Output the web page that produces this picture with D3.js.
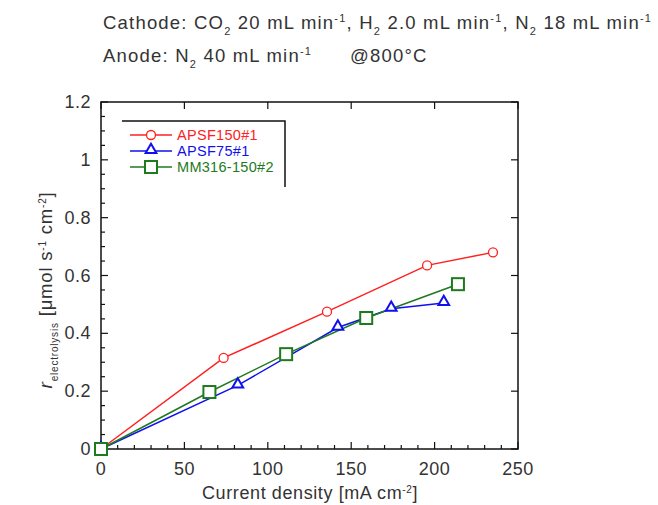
<!DOCTYPE html>
<html>
<head>
<meta charset="utf-8">
<script src="https://cdn.jsdelivr.net/npm/d3@7"></script>
<style>
  body { margin: 0; background: #fff; }
  text { font-family: "Liberation Sans", Arial, sans-serif; }
</style>
</head>
<body>
<div id="chart"></div>
<script>
// data
var seriesNames = ["APSF150#1", "APSF75#1", "MM316-150#2"];
var seriesColors = ["#ff2020", "#1010ee", "#1e7a1e"];
var seriesMarkers = ["circle", "triangle", "square"];
var apsf150X = [0, 73.5, 135.5, 195.5, 235];
var apsf150Y = [0, 0.315, 0.475, 0.635, 0.68];
var apsf75X = [0, 82, 142, 174, 205.5];
var apsf75Y = [0, 0.22, 0.42, 0.485, 0.505];
var mm316X = [0, 65, 111, 159, 214];
var mm316Y = [0, 0.197, 0.328, 0.453, 0.57];
var xTicks = [0, 50, 100, 150, 200, 250];
var yTicks = [0, 0.2, 0.4, 0.6, 0.8, 1, 1.2];

(function() {
  var seriesX = [apsf150X, apsf75X, mm316X];
  var seriesY = [apsf150Y, apsf75Y, mm316Y];

  var W = 658, H = 505;
  var svg = d3.select('#chart').append('svg')
      .attr('width', W)
      .attr('height', H);

  var pl = 101, pr = 518, pt = 102, pb = 449;
  var x = d3.scaleLinear().domain([0, 250]).range([pl, pr]);
  var y = d3.scaleLinear().domain([0, 1.2]).range([pb, pt]);

  // small helper: text with sub/superscripts, parts = [[str, 0|1|-1], ...]
  var richText = function(g, parts, big, small) {
    var shift = 0;
    parts.forEach(function(p) {
      var target = p[1] === 1 ? -small * 0.6 : (p[1] === -1 ? small * 0.55 : 0);
      g.append('tspan')
        .attr('dy', target - shift)
        .style('font-size', (p[1] === 0 ? big : small) + 'px')
        .text(p[0]);
      shift = target;
    });
    return g;
  };

  // header text
  var hdr = svg.append('g').attr('fill', '#333').style('letter-spacing', '1.2px');
  richText(hdr.append('text').attr('x', 103).attr('y', 29), [
    ['Cathode: CO', 0], ['2', -1], [' 20 mL min', 0], ['-1', 1],
    [', H', 0], ['2', -1], [' 2.0 mL min', 0], ['-1', 1],
    [', N', 0], ['2', -1], [' 18 mL min', 0], ['-1', 1]
  ], 18.5, 11);
  richText(hdr.append('text').attr('x', 103).attr('y', 62), [
    ['Anode: N', 0], ['2', -1], [' 40 mL min', 0], ['-1', 1]
  ], 18.5, 11);
  hdr.append('text').attr('x', 350).attr('y', 62).style('font-size', '18.5px').text('@800°C');

  // frame
  svg.append('rect')
      .attr('x', pl).attr('y', pt)
      .attr('width', pr - pl).attr('height', pb - pt)
      .attr('fill', 'none').attr('stroke', '#111').attr('stroke-width', 1.5);

  // ticks
  var ax = svg.append('g').attr('stroke', '#111').attr('stroke-width', 1.2);
  d3.range(0, 251, 10).forEach(function(v) {
    var major = v % 50 === 0;
    ax.append('line').attr('x1', x(v)).attr('x2', x(v))
      .attr('y1', pb).attr('y2', pb - (major ? 7 : 4));
    if (major) {
      ax.append('line').attr('x1', x(v)).attr('x2', x(v))
        .attr('y1', pt).attr('y2', pt + 7);
    }
  });
  d3.range(0, 25).forEach(function(i) {
    var v = i * 0.05;
    var major = i % 4 === 0;
    ax.append('line').attr('y1', y(v)).attr('y2', y(v))
      .attr('x1', pl).attr('x2', pl + (major ? 7 : 4));
    if (major) {
      ax.append('line').attr('y1', y(v)).attr('y2', y(v))
        .attr('x1', pr).attr('x2', pr - 7);
    }
  });

  // tick labels
  svg.append('g').selectAll('text').data(xTicks).join('text')
      .attr('x', function(d) { return x(d); })
      .attr('y', 475)
      .attr('text-anchor', 'middle')
      .attr('fill', '#333')
      .style('font-size', '18px')
      .style('letter-spacing', '0.5px')
      .text(function(d) { return d; });

  svg.append('g').selectAll('text').data(yTicks).join('text')
      .attr('x', 91)
      .attr('y', function(d) { return y(d) + 6; })
      .attr('text-anchor', 'end')
      .attr('fill', '#333')
      .style('font-size', '18px')
      .style('letter-spacing', '0.5px')
      .text(function(d) { return d; });

  // axis titles
  richText(svg.append('text').attr('x', 310).attr('y', 499)
      .attr('text-anchor', 'middle').attr('fill', '#333').style('letter-spacing', '0.6px'), [
    ['Current density [mA cm', 0], ['-2', 1], [']', 0]
  ], 18, 10);

  var yl = svg.append('text')
      .attr('transform', 'translate(52,290) rotate(-90)')
      .attr('text-anchor', 'middle').attr('fill', '#333').style('letter-spacing', '0.8px');
  yl.append('tspan').style('font-style', 'italic').style('font-size', '19px').text('r');
  richText(yl, [
    ['electrolysis', -1], [' [μmol s', 0], ['-1', 1], [' cm', 0], ['-2', 1], [']', 0]
  ], 18.5, 10);

  // markers
  var drawMarker = function(g, type, cx, cy, color) {
    if (type === 'circle') {
      g.append('circle').attr('cx', cx).attr('cy', cy).attr('r', 4.5)
        .attr('fill', '#fff').attr('stroke', color).attr('stroke-width', 1.3);
    } else if (type === 'triangle') {
      g.append('path')
        .attr('d', d3.symbol().type(d3.symbolTriangle).size(50)())
        .attr('transform', 'translate(' + cx + ',' + (cy - 1) + ')')
        .attr('fill', '#fff').attr('stroke', color).attr('stroke-width', 2);
    } else {
      g.append('rect').attr('x', cx - 6).attr('y', cy - 6)
        .attr('width', 12).attr('height', 12)
        .attr('fill', '#fff').attr('stroke', color).attr('stroke-width', 2);
    }
  };

  var line = d3.line();
  seriesNames.forEach(function(name, i) {
    var pts = seriesX[i].map(function(v, j) { return [x(v), y(seriesY[i][j])]; });
    svg.append('path').attr('d', line(pts))
      .attr('fill', 'none').attr('stroke', seriesColors[i]).attr('stroke-width', 1.5);
  });
  seriesNames.forEach(function(name, i) {
    var g = svg.append('g');
    seriesX[i].forEach(function(v, j) {
      drawMarker(g, seriesMarkers[i], x(v), y(seriesY[i][j]), seriesColors[i]);
    });
  });

  // legend
  var lg = svg.append('g');
  lg.append('path').attr('d', 'M122,121H285V187')
    .attr('fill', 'none').attr('stroke', '#111').attr('stroke-width', 1.5);
  seriesNames.forEach(function(name, i) {
    var ly = 135 + i * 16;
    lg.append('line').attr('x1', 130).attr('x2', 172).attr('y1', ly).attr('y2', ly)
      .attr('stroke', seriesColors[i]).attr('stroke-width', 1.5);
    drawMarker(lg, seriesMarkers[i], 151, ly, seriesColors[i]);
    lg.append('text').attr('x', 177).attr('y', ly + 5)
      .attr('fill', seriesColors[i]).style('font-size', '14.5px')
      .style('letter-spacing', '0.3px').text(name);
  });
})();
</script>
</body>
</html>
